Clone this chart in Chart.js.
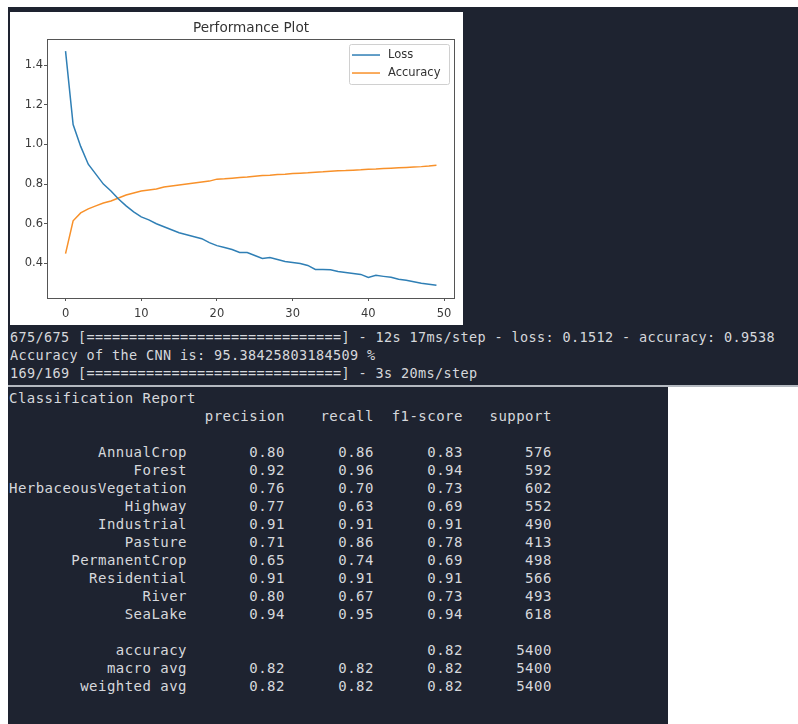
<!DOCTYPE html>
<html>
<head>
<meta charset="utf-8">
<script src="https://cdn.jsdelivr.net/npm/chart.js@4.4.1/dist/chart.umd.min.js"></script>
<style>
  html, body { margin: 0; padding: 0; background: #fff; }
  body { width: 798px; height: 724px; position: relative; overflow: hidden; }
  .panel { position: absolute; background: #1e2330; overflow: hidden; }
  #upper { left: 8px; top: 7px; width: 790px; height: 378px; }
  #lower { left: 8px; top: 387px; width: 660px; height: 337px; }
  #sep { position: absolute; left: 8px; top: 385px; width: 790px; height: 2px; background: #b4b9c0; }
  #plotBox { position: absolute; left: 10px; top: 12px; width: 453px; height: 313px; background: #fff; }
  pre { margin: 0; position: absolute; color: #d6d8dc; font-family: "DejaVu Sans Mono", monospace; line-height: 18px; white-space: pre; }
  #log { left: 10px; top: 328px; font-size: 13.5px; letter-spacing: 0.373px; }
  #report { left: 1px; top: 2px; font-size: 14px; letter-spacing: 0.47px; }
</style>
</head>
<body>
<div id="upper" class="panel"></div>
<div id="plotBox"><canvas id="perfChart" width="453" height="313"></canvas></div>
<pre id="log"></pre>
<div id="sep"></div>
<div id="lower" class="panel"><pre id="report"></pre></div>
<script>
// performance plot data
const epochs = [0, 1, 2, 3, 4, 5, 6, 7, 8, 9, 10, 11, 12, 13, 14, 15, 16, 17, 18, 19,
  20, 21, 22, 23, 24, 25, 26, 27, 28, 29, 30, 31, 32, 33, 34, 35, 36, 37, 38, 39,
  40, 41, 42, 43, 44, 45, 46, 47, 48, 49];
const lossValues = [1.47, 1.10, 0.99, 0.90, 0.85, 0.80, 0.765, 0.725, 0.69, 0.66,
  0.635, 0.62, 0.60, 0.585, 0.57, 0.555, 0.545, 0.535, 0.525, 0.505,
  0.49, 0.48, 0.47, 0.455, 0.455, 0.44, 0.425, 0.43, 0.42, 0.41,
  0.405, 0.40, 0.39, 0.37, 0.37, 0.368, 0.36, 0.355, 0.35, 0.345,
  0.33, 0.34, 0.335, 0.33, 0.32, 0.315, 0.308, 0.30, 0.295, 0.29];
const accuracyValues = [0.45, 0.615, 0.655, 0.675, 0.69, 0.705, 0.715, 0.73, 0.745, 0.755,
  0.765, 0.77, 0.775, 0.785, 0.79, 0.795, 0.80, 0.805, 0.81, 0.815,
  0.825, 0.827, 0.83, 0.833, 0.836, 0.84, 0.843, 0.845, 0.848, 0.85,
  0.853, 0.855, 0.857, 0.86, 0.862, 0.865, 0.867, 0.868, 0.87, 0.872,
  0.875, 0.876, 0.878, 0.88, 0.882, 0.884, 0.886, 0.888, 0.891, 0.895];
const xTicks = [0, 10, 20, 30, 40, 50];
const yTicks = [0.4, 0.6, 0.8, 1.0, 1.2, 1.4];

// terminal output
const logLines = [
  '675/675 [==============================] - 12s 17ms/step - loss: 0.1512 - accuracy: 0.9538',
  'Accuracy of the CNN is: 95.38425803184509 %',
  '169/169 [==============================] - 3s 20ms/step'
];

// classification report
const reportHeaders = ['precision', 'recall', 'f1-score', 'support'];
const classNames = ['AnnualCrop', 'Forest', 'HerbaceousVegetation', 'Highway', 'Industrial',
  'Pasture', 'PermanentCrop', 'Residential', 'River', 'SeaLake'];
const precision = [0.80, 0.92, 0.76, 0.77, 0.91, 0.71, 0.65, 0.91, 0.80, 0.94];
const recall = [0.86, 0.96, 0.70, 0.63, 0.91, 0.86, 0.74, 0.91, 0.67, 0.95];
const f1Score = [0.83, 0.94, 0.73, 0.69, 0.91, 0.78, 0.69, 0.91, 0.73, 0.94];
const support = [576, 592, 602, 552, 490, 413, 498, 566, 493, 618];
const overallAccuracy = 0.82;
const macroAvg = [0.82, 0.82, 0.82];
const weightedAvg = [0.82, 0.82, 0.82];
const totalSupport = 5400;

document.getElementById('log').textContent = logLines.join('\n');

const w = 20;
const col = (s) => ' ' + String(s).padStart(9);
const row = (name, vals, sup) => name.padStart(w) + ' ' + vals.map(v => col(v.toFixed(2))).join('') + col(sup);
const reportLines = ['Classification Report'];
reportLines.push(' '.repeat(w) + ' ' + reportHeaders.map(col).join(''));
reportLines.push('');
classNames.forEach((n, i) => reportLines.push(row(n, [precision[i], recall[i], f1Score[i]], support[i])));
reportLines.push('');
reportLines.push('accuracy'.padStart(w) + ' ' + col('') + col('') + col(overallAccuracy.toFixed(2)) + col(totalSupport));
reportLines.push(row('macro avg', macroAvg, totalSupport));
reportLines.push(row('weighted avg', weightedAvg, totalSupport));
document.getElementById('report').textContent = reportLines.join('\n');

// axes frame + legend box like matplotlib
const framePlugin = {
  id: 'frame',
  afterDraw(chart) {
    const { ctx, chartArea: a } = chart;
    ctx.save();
    ctx.strokeStyle = '#555';
    ctx.lineWidth = 1;
    ctx.strokeRect(Math.round(a.left) + 0.5, Math.round(a.top) + 0.5,
      Math.round(a.right - a.left) - 1, Math.round(a.bottom - a.top));

    const bx = a.right - 106, by = a.top + 5, bw = 100, bh = 40;
    ctx.fillStyle = 'rgba(255,255,255,0.8)';
    ctx.strokeStyle = '#d0d0d0';
    ctx.beginPath();
    ctx.roundRect(bx + 0.5, by + 0.5, bw, bh, 2);
    ctx.fill();
    ctx.stroke();
    ctx.font = '11.5px "DejaVu Sans"';
    ctx.textBaseline = 'middle';
    chart.data.datasets.forEach((ds, i) => {
      const y = by + 11 + i * 18;
      ctx.strokeStyle = ds.borderColor;
      ctx.lineWidth = 1.5;
      ctx.beginPath();
      ctx.moveTo(bx + 3, y);
      ctx.lineTo(bx + 31, y);
      ctx.stroke();
      ctx.fillStyle = '#333';
      ctx.fillText(ds.label, bx + 39, y);
    });
    ctx.restore();
  }
};

const toPoints = (vals) => epochs.map((e, i) => ({ x: e, y: vals[i] }));

new Chart(document.getElementById('perfChart'), {
  type: 'line',
  data: {
    datasets: [
      { label: 'Loss', data: toPoints(lossValues), borderColor: '#2f7fb5', borderWidth: 1.5, pointRadius: 0, tension: 0 },
      { label: 'Accuracy', data: toPoints(accuracyValues), borderColor: '#f8912a', borderWidth: 1.5, pointRadius: 0, tension: 0 }
    ]
  },
  options: {
    responsive: false,
    animation: false,
    devicePixelRatio: 1,
    layout: { padding: { left: 0, right: 8, top: 0, bottom: 0 } },
    plugins: {
      legend: { display: false },
      tooltip: { enabled: false },
      title: {
        display: true,
        text: 'Performance Plot',
        fullSize: false,
        color: '#333',
        font: { family: 'DejaVu Sans', size: 13.6, weight: 'normal' },
        padding: { top: 8, bottom: 2.7 }
      }
    },
    scales: {
      x: {
        type: 'linear',
        min: -2.45,
        max: 51.45,
        afterBuildTicks: (axis) => { axis.ticks = xTicks.map(v => ({ value: v })); },
        afterFit: (axis) => { axis.height = 27; },
        grid: { drawOnChartArea: false, drawTicks: true, tickLength: 3, color: '#555' },
        border: { display: false },
        ticks: { color: '#3a3a3a', padding: 6, maxRotation: 0, font: { family: 'DejaVu Sans', size: 11.5 } }
      },
      y: {
        type: 'linear',
        min: 0.226,
        max: 1.531,
        afterBuildTicks: (axis) => { axis.ticks = yTicks.map(v => ({ value: v })); },
        afterFit: (axis) => { axis.width = 37; },
        grid: { drawOnChartArea: false, drawTicks: true, tickLength: 3, color: '#555' },
        border: { display: false },
        ticks: { color: '#3a3a3a', padding: 1, callback: (v) => v.toFixed(1), font: { family: 'DejaVu Sans', size: 11.5 } }
      }
    }
  },
  plugins: [framePlugin]
});
</script>
</body>
</html>
